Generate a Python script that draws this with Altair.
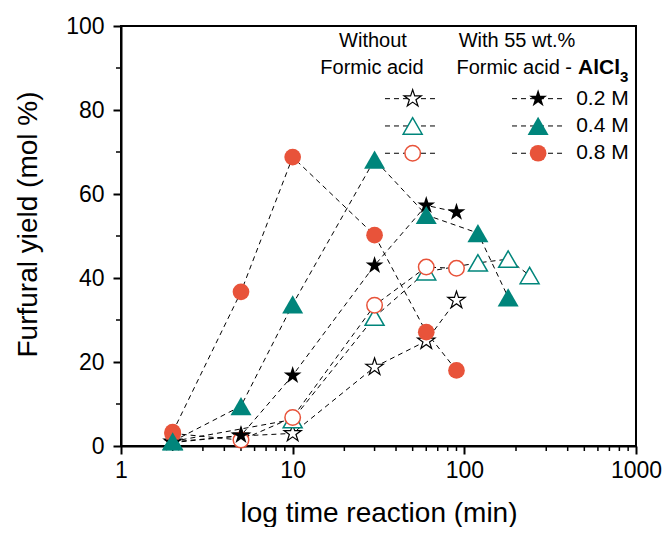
import altair as alt
import pandas as pd

# ---------------- data ----------------
# Without formic acid (open symbols)
t_open_star = [2, 5, 10, 30, 60, 90]
y_open_star = [1.0, 2.4, 3.0, 18.8, 25.0, 34.7]
t_open_tri = [2, 10, 30, 60, 120, 180, 240]
y_open_tri = [1.1, 6.3, 30.7, 41.5, 43.6, 44.5, 40.6]
t_open_circ = [2, 5, 10, 30, 60, 90]
y_open_circ = [3.0, 1.4, 6.8, 33.5, 42.6, 42.3]
# With 55 wt.% formic acid (filled symbols)
t_fill_star = [2, 5, 10, 30, 60, 90]
y_fill_star = [0.8, 2.5, 16.8, 43.0, 57.3, 55.7]
t_fill_tri = [2, 5, 10, 30, 60, 120, 180]
y_fill_tri = [1.1, 9.5, 33.7, 68.2, 55.0, 50.7, 35.4]
t_fill_circ = [2, 5, 10, 30, 60, 90]
y_fill_circ = [3.3, 36.7, 68.8, 50.2, 27.1, 18.0]

conc_labels = ["0.2 M", "0.4 M", "0.8 M"]
x_ticks = [1, 10, 100, 1000]
y_ticks = [0, 20, 40, 60, 80, 100]
x_minor = [2, 3, 4, 5, 6, 7, 8, 9, 20, 30, 40, 50, 60, 70, 80, 90,
           200, 300, 400, 500, 600, 700, 800, 900]
y_minor = [10, 30, 50, 70, 90]

# ---------------- styles ----------------
TEAL = "#00857b"
RED = "#e8533a"
FONT = "Liberation Sans"
STAR = ("M0,-1 L0.2245,-0.309 L0.9511,-0.309 L0.3633,0.118 L0.5878,0.809 "
        "L0,0.382 L-0.5878,0.809 L-0.3633,0.118 L-0.9511,-0.309 L-0.2245,-0.309 Z")

# legend geometry (data coordinates)
leg_rows_y = [82.7, 76.2, 69.7]
leg_open = dict(x=50, x1=34.5, x2=71.2)
leg_fill = dict(x=269, x1=189.6, x2=380)
leg_label_x = 448

series = [
    # name, times, yields, shape, fill, stroke, size, strokeWidth, legend group, row
    ("os", t_open_star, y_open_star, STAR, "white", "black", 330, 1.2, leg_open, 0),
    ("ot", t_open_tri, y_open_tri, "triangle-up", "white", TEAL, 360, 1.5, leg_open, 1),
    ("oc", t_open_circ, y_open_circ, "circle", "white", RED, 240, 1.5, leg_open, 2),
    ("fs", t_fill_star, y_fill_star, STAR, "black", "black", 350, 0, leg_fill, 0),
    ("fc", t_fill_circ, y_fill_circ, "circle", RED, RED, 279, 0, leg_fill, 2),
    ("ft", t_fill_tri, y_fill_tri, "triangle-up", TEAL, TEAL, 441, 0, leg_fill, 1),
]

rows = []
for name, ts, ys, *_ in series:
    for t, v in zip(ts, ys):
        rows.append({"series": name, "x": t, "y": v})
df = pd.DataFrame(rows)

xscale = alt.Scale(type="log", domain=[1, 1000])
yscale = alt.Scale(domain=[0, 100])

X = alt.X("x:Q", scale=xscale, axis=alt.Axis(
    values=x_ticks, format="d", title="log time reaction (min)",
    titleY=75, titleBaseline="alphabetic", labelPadding=5, labelFlush=False))
Y = alt.Y("y:Q", scale=yscale, axis=alt.Axis(
    values=y_ticks, title="Furfural yield (mol %)", titleX=-85, titleY=198,
    titleBaseline="alphabetic", titleAlign="center", labelPadding=9))

layers = []

# dashed connecting lines
layers.append(alt.Chart(df).mark_line(
    strokeDash=[5, 4], color="black", strokeWidth=1
).encode(x=X, y=Y, detail="series:N", order="x:Q"))

# minor ticks
layers.append(alt.Chart(pd.DataFrame({"x": x_minor})).mark_rule(
    color="black", strokeWidth=1.5
).encode(x=alt.X("x:Q", scale=xscale), y=alt.value(420), y2=alt.value(425)))
layers.append(alt.Chart(pd.DataFrame({"y": y_minor})).mark_rule(
    color="black", strokeWidth=1.5
).encode(y=alt.Y("y:Q", scale=yscale), x=alt.value(0), x2=alt.value(-5)))

# legend dashed segments
leg_lines = []
for name, ts, ys, shape, fill, stroke, size, sw, grp, row in series:
    leg_lines.append({"x1": grp["x1"], "x2": grp["x2"], "y": leg_rows_y[row]})
layers.append(alt.Chart(pd.DataFrame(leg_lines)).mark_rule(
    strokeDash=[5, 4], color="black", strokeWidth=1
).encode(x=alt.X("x1:Q", scale=xscale), x2="x2:Q", y=alt.Y("y:Q", scale=yscale)))

# markers (data + legend symbol)
for name, ts, ys, shape, fill, stroke, size, sw, grp, row in series:
    sub = df[df.series == name][["x", "y"]].copy()
    sub = pd.concat([sub, pd.DataFrame({"x": [grp["x"]], "y": [leg_rows_y[row]]})])
    layers.append(alt.Chart(sub).mark_point(
        shape=shape, filled=True, fill=fill, stroke=stroke, strokeWidth=sw,
        size=size, opacity=1, fillOpacity=1, strokeOpacity=1
    ).encode(x=alt.X("x:Q", scale=xscale), y=alt.Y("y:Q", scale=yscale)))

# legend labels
layers.append(alt.Chart(pd.DataFrame({"x": [leg_label_x] * 3, "y": leg_rows_y, "t": conc_labels})).mark_text(
    align="left", baseline="middle", font=FONT, fontSize=21, color="black"
).encode(x=alt.X("x:Q", scale=xscale), y=alt.Y("y:Q", scale=yscale), text="t:N"))

one = pd.DataFrame({"a": [0]})

def txt(s, x, y, align="center", size=20, weight="normal"):
    return alt.Chart(one).mark_text(
        text=s, align=align, baseline="alphabetic", font=FONT, fontSize=size,
        fontWeight=weight, color="black"
    ).encode(x=alt.value(x), y=alt.value(y))

layers += [
    txt("Without", 252, 21),
    txt("Formic acid", 251, 48),
    txt("With 55 wt.%", 396, 21),
    txt("Formic acid -", 451, 48, align="right"),
    txt("AlCl", 457, 48, align="left", size=21, weight="bold"),
    txt("3", 499, 56, align="left", size=15, weight="bold"),
]

chart = alt.layer(*layers).properties(
    width=515, height=420,
    autosize=alt.AutoSizeParams(type="none"),
    padding={"left": 113, "top": 18, "right": 26, "bottom": 81},
).configure_view(
    stroke="black", strokeWidth=2
).configure_axis(
    grid=False, domainColor="black", domainWidth=2, tickColor="black",
    tickWidth=2, tickSize=8, labelFont=FONT, labelFontSize=23,
    labelColor="black", titleFont=FONT, titleFontSize=28,
    titleFontWeight="normal", titleColor="black"
)

chart.save("out.html", embed_options={"renderer": "svg", "actions": False})
